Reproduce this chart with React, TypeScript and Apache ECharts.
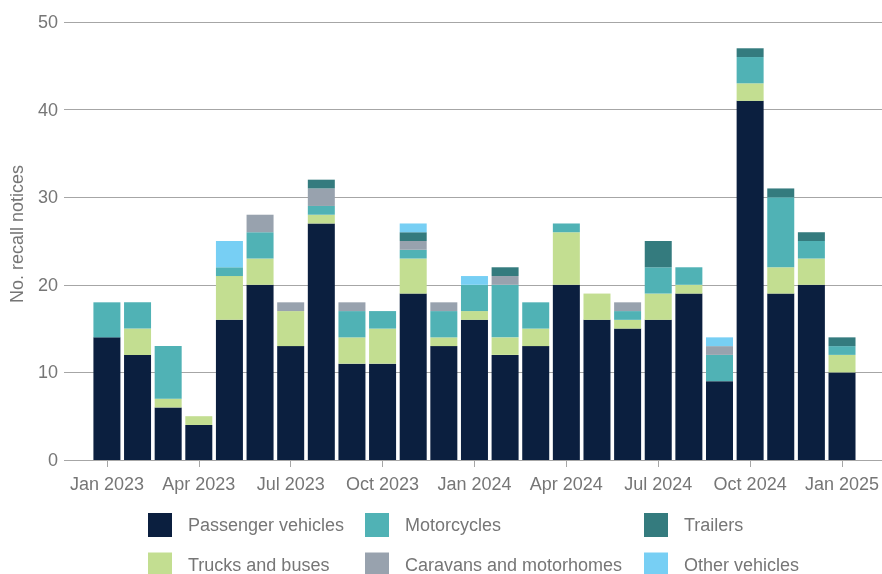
import React, { useEffect, useRef } from "react";
import * as echarts from "echarts";

const months = [
  "Jan 2023", "Feb 2023", "Mar 2023", "Apr 2023", "May 2023", "Jun 2023",
  "Jul 2023", "Aug 2023", "Sep 2023", "Oct 2023", "Nov 2023", "Dec 2023",
  "Jan 2024", "Feb 2024", "Mar 2024", "Apr 2024", "May 2024", "Jun 2024",
  "Jul 2024", "Aug 2024", "Sep 2024", "Oct 2024", "Nov 2024", "Dec 2024",
  "Jan 2025",
];

const passenger = [14, 12, 6, 4, 16, 20, 13, 27, 11, 11, 19, 13, 16, 12, 13, 20, 16, 15, 16, 19, 9, 41, 19, 20, 10];
const trucks = [0, 3, 1, 1, 5, 3, 4, 1, 3, 4, 4, 1, 1, 2, 2, 6, 3, 1, 3, 1, 0, 2, 3, 3, 2];
const motorcycles = [4, 3, 6, 0, 1, 3, 0, 1, 3, 2, 1, 3, 3, 6, 3, 1, 0, 1, 3, 2, 3, 3, 8, 2, 1];
const caravans = [0, 0, 0, 0, 0, 2, 1, 2, 1, 0, 1, 1, 0, 1, 0, 0, 0, 1, 0, 0, 1, 0, 0, 0, 0];
const trailers = [0, 0, 0, 0, 0, 0, 0, 1, 0, 0, 1, 0, 0, 1, 0, 0, 0, 0, 3, 0, 0, 1, 1, 1, 1];
const others = [0, 0, 0, 0, 3, 0, 0, 0, 0, 0, 1, 0, 1, 0, 0, 0, 0, 0, 0, 0, 1, 0, 0, 0, 0];

const seriesDefs = [
  { name: "Passenger vehicles", data: passenger, color: "#0b1f3f" },
  { name: "Trucks and buses", data: trucks, color: "#c3de91" },
  { name: "Motorcycles", data: motorcycles, color: "#50b2b5" },
  { name: "Caravans and motorhomes", data: caravans, color: "#98a2ae" },
  { name: "Trailers", data: trailers, color: "#347b7e" },
  { name: "Other vehicles", data: others, color: "#77cff4" },
];

// legend grid: [name, column, row]
const legendLayout: [string, number, number][] = [
  ["Passenger vehicles", 0, 0],
  ["Motorcycles", 1, 0],
  ["Trailers", 2, 0],
  ["Trucks and buses", 0, 1],
  ["Caravans and motorhomes", 1, 1],
  ["Other vehicles", 2, 1],
];
const legendCols = [148, 365, 644];
const legendRows = [513, 552.5];

const TEXT = "#767676";
const FONT = "Liberation Sans, Arial, sans-serif";
const AXIS = "#a6a6a6";

export default function App() {
  const ref = useRef<HTMLDivElement>(null);
  useEffect(() => {
    if (!ref.current) return;
    const chart = echarts.init(ref.current, undefined, { renderer: "svg" });
    chart.setOption({
      animation: false,
      textStyle: { fontFamily: FONT },
      grid: [
        { left: 62, right: 0, top: 22, bottom: 114, containLabel: false },
        { left: 91.6, right: 22.3, top: 22, bottom: 114, containLabel: false },
      ],
      legend: legendLayout.map(([name, c, r]) => ({
        left: legendCols[c],
        top: legendRows[r],
        padding: 0,
        itemWidth: 24,
        itemHeight: 24,
        icon: "rect",
        selectedMode: false,
        data: [name],
        textStyle: { color: TEXT, fontSize: 18, fontFamily: FONT, padding: [0, 0, 0, 11] },
      })),
      xAxis: [
        {
          gridIndex: 0,
          type: "value",
          min: 0,
          max: 1,
          show: false,
        },
        {
          gridIndex: 1,
          type: "category",
          data: months,
          axisLine: { show: false },
          axisTick: {
            show: true,
            length: 7,
            interval: 2,
            alignWithLabel: true,
            lineStyle: { color: AXIS },
          },
          axisLabel: {
            interval: 2,
            color: TEXT,
            fontSize: 18,
            fontFamily: FONT,
            margin: 15,
          },
        },
      ],
      yAxis: [
        {
          gridIndex: 0,
          type: "value",
          min: 0,
          max: 50,
          interval: 10,
          name: "No. recall notices",
          nameLocation: "middle",
          nameGap: 38,
          nameTextStyle: { color: TEXT, fontSize: 18, fontFamily: FONT, padding: [0, 0, 0, 14] },
          axisLine: { show: false },
          axisTick: { show: false },
          axisLabel: { color: TEXT, fontSize: 18, fontFamily: FONT, margin: 6 },
          splitLine: { lineStyle: { color: AXIS, width: 1 } },
        },
        {
          gridIndex: 1,
          type: "value",
          min: 0,
          max: 50,
          interval: 10,
          show: false,
          splitLine: { show: false },
        },
      ],
      series: seriesDefs.map((s) => ({
        name: s.name,
        type: "bar",
        stack: "total",
        xAxisIndex: 1,
        yAxisIndex: 1,
        barWidth: 27,
        itemStyle: { color: s.color },
        data: s.data,
      })),
    });
    return () => chart.dispose();
  }, []);
  return (
    <div
      ref={ref}
      style={{ position: "fixed", left: 0, top: 0, width: 882, height: 574 }}
    />
  );
}
